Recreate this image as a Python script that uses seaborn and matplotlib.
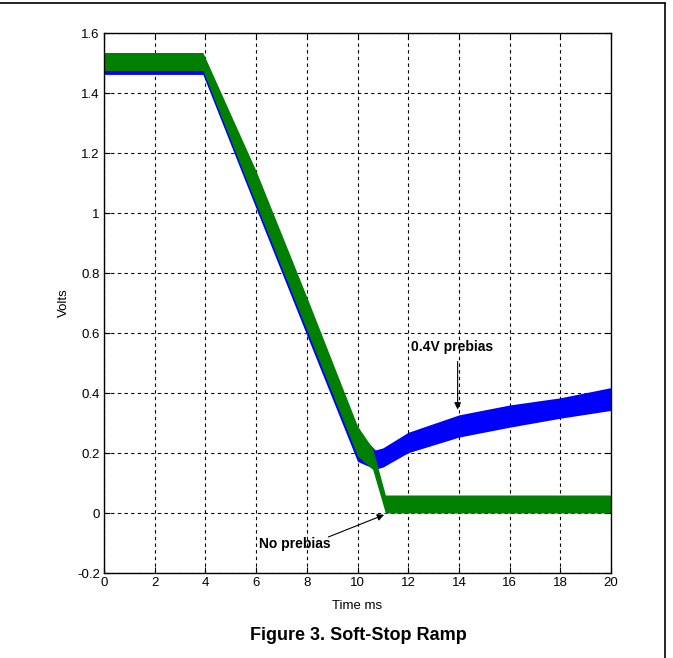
import numpy as np
import pandas as pd
import seaborn as sns
import matplotlib.pyplot as plt
from matplotlib.lines import Line2D

# traces: time (ms), band centre (V), band half-width (V)
blue_t = [0, 3.9, 6.0, 8.0, 10.0, 10.7, 11.0, 12.0, 14.0, 16.0, 18.0, 20.0]
blue_v = [1.492, 1.492, 1.07, 0.648, 0.222, 0.178, 0.185, 0.235, 0.29, 0.323, 0.35, 0.38]
blue_hw = [0.03, 0.03, 0.055, 0.055, 0.05, 0.032, 0.032, 0.034, 0.037, 0.037, 0.034, 0.038]

green_t = [0, 3.9, 6.0, 8.0, 10.0, 10.6, 11.1, 11.2, 20.0]
green_v = [1.505, 1.505, 1.085, 0.665, 0.24, 0.18, 0.03, 0.03, 0.03]
green_hw = [0.03, 0.03, 0.055, 0.055, 0.05, 0.035, 0.03, 0.03, 0.03]

x_ticks = [0, 2, 4, 6, 8, 10, 12, 14, 16, 18, 20]
y_ticks = [-0.2, 0, 0.2, 0.4, 0.6, 0.8, 1, 1.2, 1.4, 1.6]
y_labels = ['-0.2', '0', '0.2', '0.4', '0.6', '0.8', '1', '1.2', '1.4', '1.6']

sns.set_style('white')
plt.rcParams['font.family'] = ['Liberation Sans', 'DejaVu Sans']
plt.rcParams['text.color'] = 'black'
plt.rcParams['axes.labelcolor'] = 'black'
plt.rcParams['xtick.color'] = 'black'
plt.rcParams['ytick.color'] = 'black'

fig = plt.figure(figsize=(6.73, 6.58), dpi=100)
ax = fig.add_axes([104 / 673, 1 - 573 / 658, 507 / 673, 540 / 658])

traces = pd.concat([
    pd.DataFrame({'t': blue_t, 'v': blue_v, 'hw': blue_hw, 'trace': '0.4V prebias'}),
    pd.DataFrame({'t': green_t, 'v': green_v, 'hw': green_hw, 'trace': 'No prebias'}),
])
colors = {'0.4V prebias': '#0000ff', 'No prebias': '#007f00'}

for name, df in traces.groupby('trace', sort=False):
    c = colors[name]
    ax.fill_between(df['t'], df['v'] - df['hw'], df['v'] + df['hw'],
                    color=c, lw=0, zorder=3)
    sns.lineplot(data=df, x='t', y='v', color=c, lw=1.5, ax=ax,
                 legend=False, zorder=3)

ax.set_xlim(0, 20)
ax.set_ylim(-0.2, 1.6)
ax.set_xticks(x_ticks)
ax.set_xticklabels([str(x) for x in x_ticks])
ax.set_yticks(y_ticks)
ax.set_yticklabels(y_labels)
ax.grid(True, color='black', linestyle=(0, (3, 3)), lw=0.8, zorder=1)
ax.tick_params(direction='in', length=4, labelsize=9.5,
               top=True, right=True, left=True, bottom=True, pad=3)
for s in ax.spines.values():
    s.set_color('black')
    s.set_linewidth(1.0)
    s.set_zorder(5)

ax.set_xlabel('Time ms', fontsize=9.5, labelpad=8)
ax.set_ylabel('Volts', fontsize=9.5, labelpad=5)

# annotation text and arrows
note_font = dict(fontsize=10, fontweight='bold', zorder=6,
                 family=['Liberation Sans Narrow', 'Liberation Sans'])
ax.text(12.1, 0.553, '0.4V prebias', ha='left', va='center', **note_font)
ax.annotate('', xy=(13.95, 0.345), xytext=(13.95, 0.505), zorder=6,
            arrowprops=dict(arrowstyle='-|>', color='black', lw=0.8,
                            shrinkA=0, shrinkB=0))
ax.text(6.1, -0.103, 'No prebias', ha='left', va='center', **note_font)
ax.annotate('', xy=(11.05, -0.006), xytext=(8.85, -0.08), zorder=6,
            arrowprops=dict(arrowstyle='-|>', color='black', lw=0.8,
                            shrinkA=0, shrinkB=0))

fig.text(358 / 673, 1 - 635 / 658, 'Figure 3. Soft-Stop Ramp',
         ha='center', va='center', fontsize=13, fontweight='bold')

# outer frame (top and right edges only, as in the source page)
fig.add_artist(Line2D([0, 665 / 673], [1 - 3 / 658, 1 - 3 / 658],
                      transform=fig.transFigure, color='black', lw=1.2))
fig.add_artist(Line2D([665 / 673, 665 / 673], [0, 1 - 3 / 658],
                      transform=fig.transFigure, color='black', lw=1.2))

fig.savefig('out.png', dpi=100)
